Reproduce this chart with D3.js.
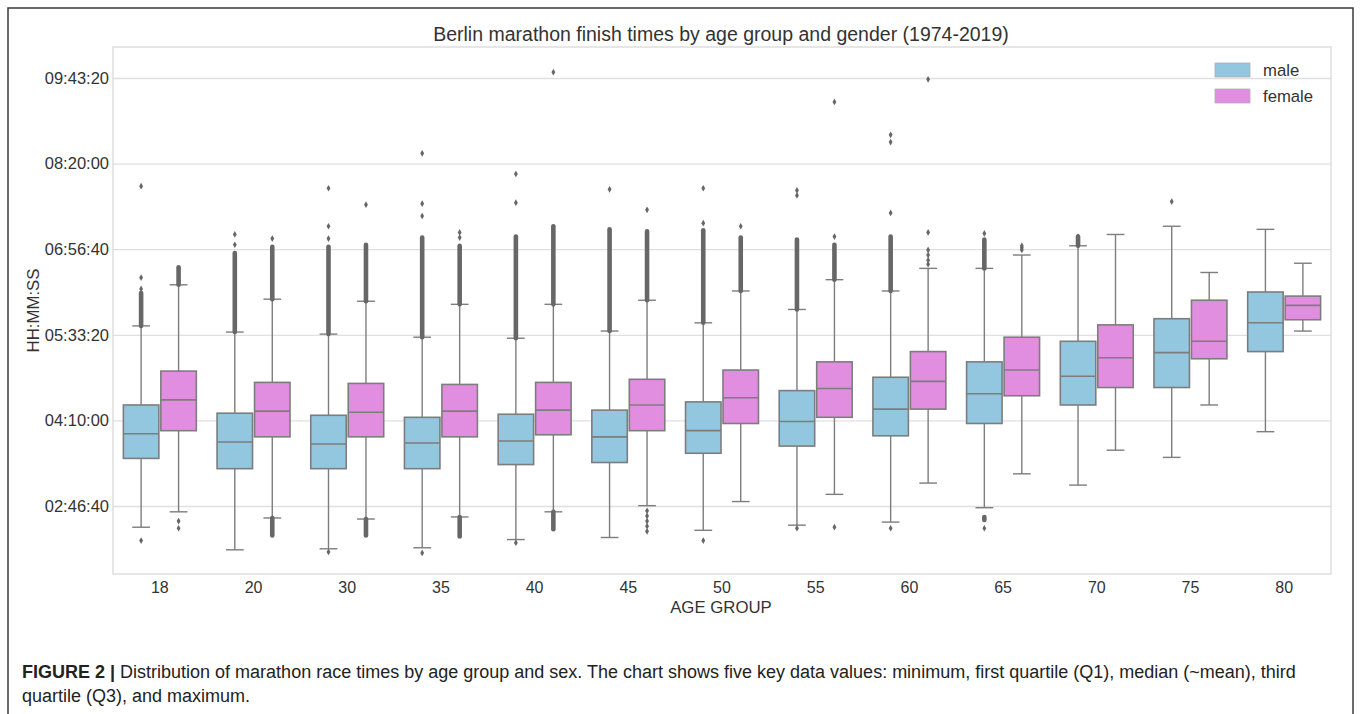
<!DOCTYPE html>
<html>
<head>
<meta charset="utf-8">
<script src="https://cdn.jsdelivr.net/npm/d3@7"></script>
<style>
  body { margin: 0; background: #fff; }
  svg { display: block; font-family: "Liberation Sans", Arial, sans-serif; }
</style>
</head>
<body>
<div id="graph"></div>
<script>
// all times in minutes
const ageGroups = ["18", "20", "30", "35", "40", "45", "50", "55", "60", "65", "70", "75", "80"];
const genders = ["male", "female"];

// [lower whisker, Q1, median, Q3, upper whisker]
const maleStats = [
  [146, 213, 237, 265, 342], [124, 203, 229, 257, 336], [125, 203, 227, 255, 334],
  [126, 203, 228, 253, 331], [134, 207, 230, 256, 330], [136, 209, 234, 260, 337],
  [143, 218, 240, 268, 345], [148, 225, 249, 279, 358], [151, 235, 261, 292, 376],
  [165, 247, 276, 307, 398], [187, 265, 293, 327, 420], [214, 282, 316, 349, 439],
  [239, 317, 345, 375, 436]
];
const femaleStats = [
  [161, 240, 270, 298, 382], [155, 234, 259, 287, 368], [154, 234, 258, 286, 366],
  [156, 234, 259, 285, 363], [161, 236, 260, 287, 363], [167, 240, 265, 290, 367],
  [171, 247, 272, 299, 376], [178, 253, 281, 307, 387], [189, 261, 288, 317, 398],
  [198, 274, 299, 331, 411], [221, 282, 311, 343, 431], [265, 310, 327, 367, 394],
  [337, 348, 362, 371, 403]
];

// dense runs of outliers [from, to]
const maleOutlierBands = [
  [[342, 374]], [[336, 413]], [[334, 419]], [[331, 428]], [[330, 429]], [[337, 436]],
  [[345, 435]], [[358, 426]], [[376, 429]], [[398, 426], [153, 156]], [[420, 429]], [], []
];
const femaleOutlierBands = [
  [[382, 399]], [[368, 419], [138, 155]], [[366, 421], [138, 154]], [[363, 420], [137, 156]],
  [[363, 439], [144, 161]], [[367, 434]], [[376, 428]], [[387, 421]], [], [], [], [], []
];

// single outliers
const maleOutliers = [
  [378, 389, 478, 133], [421, 431], [427, 439, 476, 122], [449, 461, 510, 121],
  [462, 490, 131], [475], [442, 476, 133], [469, 474, 145], [452, 521, 528, 145],
  [432, 145], [423, 426, 429], [463], []
];
const femaleOutliers = [
  [152, 145], [427], [460], [428, 433], [589], [455, 162, 157, 152, 147, 142],
  [439], [429, 560, 146], [402, 406, 411, 416, 433, 582], [416, 418, 420], [], [], []
];

const yTicks = [10000, 15000, 20000, 25000, 30000, 35000]; // seconds

const colors = { male: "#93c6df", female: "#e18ee0" };
const lineColor = "#7d7d7d";
const flierColor = "#676767";

const width = 1360, height = 714;
const plot = { left: 113, top: 47, right: 1331, bottom: 574 };

const svg = d3.select("#graph").append("svg")
  .attr("width", width).attr("height", height);

// outer figure frame
svg.append("rect")
  .attr("x", 8).attr("y", 8)
  .attr("width", 1345).attr("height", 720)
  .attr("fill", "none").attr("stroke", "#3a3a3a").attr("stroke-width", 1.5);

const x = d3.scaleBand().domain(ageGroups).range([plot.left, plot.right]);
const xHue = d3.scaleBand().domain(genders).range([0, x.bandwidth() * 0.8]);
const y = d3.scaleLinear().domain([6028, 36811]).range([plot.bottom, plot.top]);

const fmt = s => {
  const h = Math.floor(s / 3600), m = Math.floor((s % 3600) / 60), sec = s % 60;
  return [h, m, sec].map(v => String(v).padStart(2, "0")).join(":");
};

// grid
svg.append("g")
  .attr("transform", `translate(${plot.left},0)`)
  .call(d3.axisLeft(y).tickValues(yTicks).tickSize(-(plot.right - plot.left)).tickFormat(""))
  .call(g => g.select(".domain").remove())
  .call(g => g.selectAll("line").attr("stroke", "#e0e0e0").attr("stroke-width", 1.3));

svg.append("rect")
  .attr("x", plot.left).attr("y", plot.top)
  .attr("width", plot.right - plot.left).attr("height", plot.bottom - plot.top)
  .attr("fill", "none").attr("stroke", "#d9d9d9").attr("stroke-width", 1.3);

// y axis
svg.append("g")
  .attr("transform", `translate(${plot.left},0)`)
  .call(d3.axisLeft(y).tickValues(yTicks).tickSize(0).tickPadding(4).tickFormat(fmt))
  .call(g => g.select(".domain").remove())
  .call(g => g.selectAll("text").attr("fill", "#333").style("font-size", "16.5px")
    .style("font-family", "'Liberation Sans', Arial, sans-serif"));

// x axis
svg.append("g")
  .attr("transform", `translate(0,${plot.bottom})`)
  .call(d3.axisBottom(x).tickSize(0).tickPadding(8))
  .call(g => g.select(".domain").remove())
  .call(g => g.selectAll("text").attr("fill", "#333").style("font-size", "16px")
    .style("font-family", "'Liberation Sans', Arial, sans-serif"));

// boxes
const series = [
  { key: "male", stats: maleStats, bands: maleOutlierBands, pts: maleOutliers },
  { key: "female", stats: femaleStats, bands: femaleOutlierBands, pts: femaleOutliers }
];
const diamond = d3.symbol().type(d3.symbolDiamond).size(13);
const sec = m => y(m * 60);

series.forEach(s => {
  const g = svg.append("g");
  ageGroups.forEach((age, i) => {
    const [lw, q1, med, q3, uw] = s.stats[i];
    const bw = xHue.bandwidth() - 2;
    const x0 = x(age) + x.bandwidth() * 0.1 + xHue(s.key) + 1;
    const cx = x0 + bw / 2;
    const cap = bw / 4;

    g.append("line").attr("x1", cx).attr("x2", cx).attr("y1", sec(q3)).attr("y2", sec(uw))
      .attr("stroke", lineColor).attr("stroke-width", 1.4);
    g.append("line").attr("x1", cx).attr("x2", cx).attr("y1", sec(q1)).attr("y2", sec(lw))
      .attr("stroke", lineColor).attr("stroke-width", 1.4);
    [lw, uw].forEach(v => g.append("line")
      .attr("x1", cx - cap).attr("x2", cx + cap).attr("y1", sec(v)).attr("y2", sec(v))
      .attr("stroke", lineColor).attr("stroke-width", 1.4));

    g.append("rect").attr("x", x0).attr("width", bw)
      .attr("y", sec(q3)).attr("height", sec(q1) - sec(q3))
      .attr("fill", colors[s.key]).attr("stroke", lineColor).attr("stroke-width", 1.6);
    g.append("line").attr("x1", x0).attr("x2", x0 + bw).attr("y1", sec(med)).attr("y2", sec(med))
      .attr("stroke", lineColor).attr("stroke-width", 1.6);

    s.bands[i].forEach(([a, b]) => {
      g.append("rect").attr("x", cx - 2.3).attr("width", 4.6)
        .attr("y", sec(Math.max(a, b)) - 2.3).attr("height", Math.abs(sec(a) - sec(b)) + 4.6)
        .attr("rx", 2.3).attr("fill", flierColor);
    });
    s.pts[i].forEach(v => {
      g.append("path").attr("d", diamond)
        .attr("transform", `translate(${cx},${sec(v)})`).attr("fill", flierColor);
    });
  });
});

// title and axis labels
svg.append("text")
  .attr("x", 721).attr("y", 41)
  .attr("text-anchor", "middle").attr("fill", "#333").style("font-size", "19.5px")
  .text("Berlin marathon finish times by age group and gender (1974-2019)");

svg.append("text")
  .attr("x", 721).attr("y", 613)
  .attr("text-anchor", "middle").attr("fill", "#333").style("font-size", "16.8px")
  .text("AGE GROUP");

svg.append("text")
  .attr("transform", `translate(39,${(plot.top + plot.bottom) / 2}) rotate(-90)`)
  .attr("text-anchor", "middle").attr("fill", "#333").style("font-size", "16.8px")
  .text("HH:MM:SS");

// legend
const legend = svg.append("g").attr("transform", "translate(1215,63)");
genders.forEach((k, i) => {
  legend.append("rect").attr("x", 0).attr("y", i * 26).attr("width", 35).attr("height", 14)
    .attr("fill", colors[k]).attr("stroke", "#b0b0b0").attr("stroke-width", 0.8);
  legend.append("text").attr("x", 48).attr("y", i * 26 + 13)
    .attr("fill", "#333").style("font-size", "16.7px").text(k);
});

// caption
const cap = svg.append("g").style("font-size", "18px").attr("fill", "#222");
cap.append("text").attr("x", 22).attr("y", 678)
  .call(t => {
    t.append("tspan").attr("font-weight", "bold").text("FIGURE 2 | ");
    t.append("tspan").text("Distribution of marathon race times by age group and sex. The chart shows five key data values: minimum, first quartile (Q1), median (~mean), third");
  });
cap.append("text").attr("x", 22).attr("y", 702)
  .text("quartile (Q3), and maximum.");
</script>
</body>
</html>
